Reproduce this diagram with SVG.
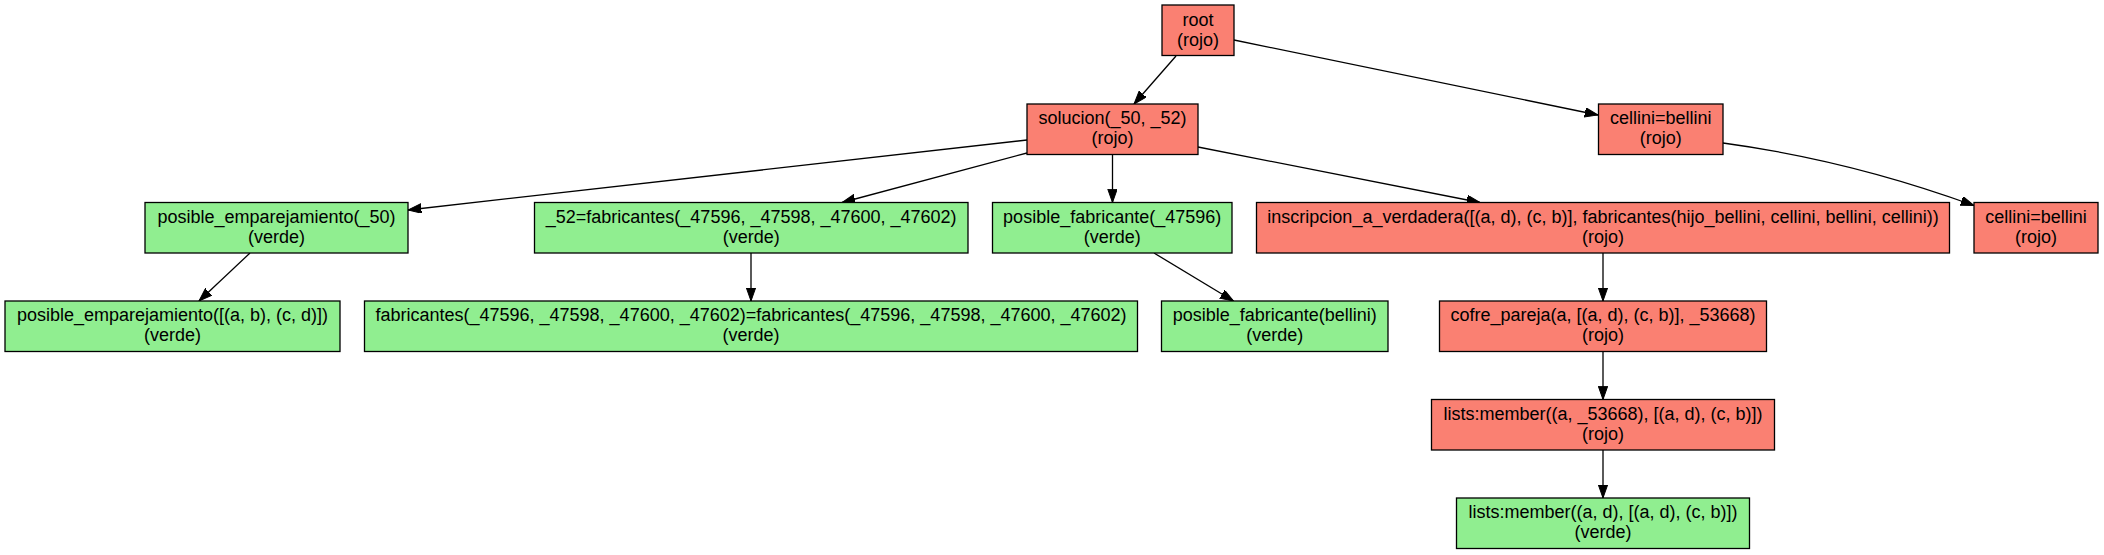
<svg xmlns="http://www.w3.org/2000/svg" width="2104" height="555" viewBox="0 0 2104 555">
<style>
.n rect{stroke:#000;stroke-width:1.3}
.r rect{fill:#FA8072}
.g rect{fill:#90EE90}
text{font-family:"Liberation Sans",Arial,sans-serif;font-size:18px;fill:#000;text-anchor:middle}
.e line,.e path{stroke:#000;stroke-width:1.3;fill:none;marker-end:url(#ah)}
</style>
<defs>
<marker id="ah" markerUnits="userSpaceOnUse" markerWidth="14" markerHeight="10" refX="13.3" refY="4.7" orient="auto">
<path d="M0,0 L13.3,4.7 L0,9.4 z" fill="#000" stroke="#000" stroke-width="1"/>
</marker>
</defs>
<rect width="2104" height="555" fill="#fff"/>
<g id="edges" class="e">
<line x1="1176" y1="56" x2="1134" y2="104"/>
<line x1="1234" y1="40" x2="1598" y2="115"/>
<line x1="1027" y1="140" x2="408" y2="210"/>
<line x1="1027" y1="153" x2="842" y2="202.5"/>
<line x1="1112.5" y1="154.5" x2="1112.5" y2="202.5"/>
<line x1="1198" y1="147" x2="1480" y2="202.5"/>
<path d="M1723,143 Q1849,160 1974,205.5"/>
<line x1="250" y1="253" x2="199" y2="301"/>
<line x1="751" y1="253" x2="751" y2="301"/>
<line x1="1154" y1="253" x2="1233.5" y2="301"/>
<line x1="1603" y1="253" x2="1603" y2="301"/>
<line x1="1603" y1="351.5" x2="1603" y2="399.5"/>
<line x1="1603" y1="450" x2="1603" y2="498"/>
</g>
<g id="root" class="n r"><rect x="1162" y="5" width="72" height="50.5"/><text x="1198" y="25.5">root</text><text x="1198" y="45.5">(rojo)</text></g>
<g id="solucion" class="n r"><rect x="1027" y="104" width="171" height="50.5"/><text x="1112.5" y="124">solucion(_50, _52)</text><text x="1112.5" y="144">(rojo)</text></g>
<g id="cellini1" class="n r"><rect x="1598.5" y="104" width="124.5" height="50.5"/><text x="1660.7" y="124">cellini=bellini</text><text x="1660.7" y="144">(rojo)</text></g>
<g id="posemp50" class="n g"><rect x="145" y="202.5" width="263" height="50.5"/><text x="276.5" y="222.7">posible_emparejamiento(_50)</text><text x="276.5" y="242.7">(verde)</text></g>
<g id="eq52" class="n g"><rect x="534.5" y="202.5" width="433.5" height="50.5"/><text x="751.2" y="222.7">_52=fabricantes(_47596, _47598, _47600, _47602)</text><text x="751.2" y="242.7">(verde)</text></g>
<g id="posfab" class="n g"><rect x="992.5" y="202.5" width="239.5" height="50.5"/><text x="1112.2" y="222.7">posible_fabricante(_47596)</text><text x="1112.2" y="242.7">(verde)</text></g>
<g id="inscripcion" class="n r"><rect x="1256.5" y="202.5" width="693" height="50.5"/><text x="1603" y="222.7">inscripcion_a_verdadera([(a, d), (c, b)], fabricantes(hijo_bellini, cellini, bellini, cellini))</text><text x="1603" y="242.7">(rojo)</text></g>
<g id="cellini2" class="n r"><rect x="1974" y="202.5" width="124" height="50.5"/><text x="2036" y="222.7">cellini=bellini</text><text x="2036" y="242.7">(rojo)</text></g>
<g id="posemplist" class="n g"><rect x="5" y="301" width="335" height="50.5"/><text x="172.5" y="321.2">posible_emparejamiento([(a, b), (c, d)])</text><text x="172.5" y="341.2">(verde)</text></g>
<g id="fabricantes" class="n g"><rect x="364.5" y="301" width="773" height="50.5"/><text x="751" y="321.2">fabricantes(_47596, _47598, _47600, _47602)=fabricantes(_47596, _47598, _47600, _47602)</text><text x="751" y="341.2">(verde)</text></g>
<g id="posfabbellini" class="n g"><rect x="1161.5" y="301" width="226.5" height="50.5"/><text x="1274.7" y="321.2">posible_fabricante(bellini)</text><text x="1274.7" y="341.2">(verde)</text></g>
<g id="cofre" class="n r"><rect x="1439.5" y="301" width="327" height="50.5"/><text x="1603" y="321.2">cofre_pareja(a, [(a, d), (c, b)], _53668)</text><text x="1603" y="341.2">(rojo)</text></g>
<g id="lists1" class="n r"><rect x="1431.5" y="399.5" width="343" height="50.5"/><text x="1603" y="419.7">lists:member((a, _53668), [(a, d), (c, b)])</text><text x="1603" y="439.7">(rojo)</text></g>
<g id="lists2" class="n g"><rect x="1456.5" y="498" width="293" height="50.5"/><text x="1603" y="518.2">lists:member((a, d), [(a, d), (c, b)])</text><text x="1603" y="538.2">(verde)</text></g>
</svg>
